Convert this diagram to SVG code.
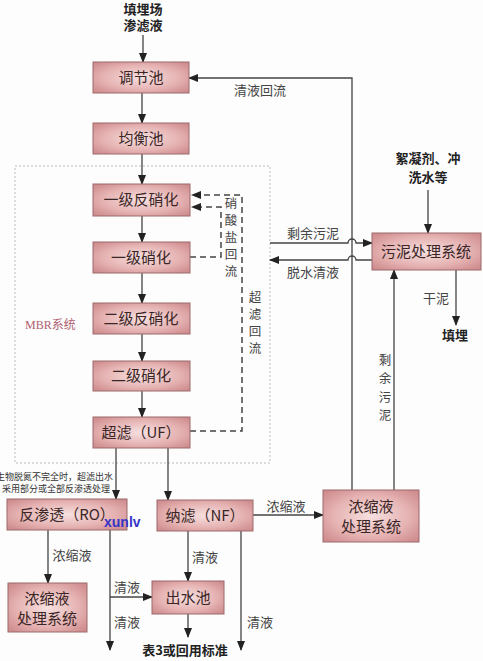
<svg xmlns="http://www.w3.org/2000/svg" width="483" height="661" viewBox="0 0 483 661">
<defs>
<radialGradient id="boxg" cx="50%" cy="50%" r="65%">
<stop offset="0" stop-color="#f6e0df"/>
<stop offset="0.6" stop-color="#e6b3b3"/>
<stop offset="1" stop-color="#cf8d8f"/>
</radialGradient>
<marker id="ah" markerWidth="10" markerHeight="8" refX="9" refY="4" orient="auto" markerUnits="userSpaceOnUse">
<path d="M0,0 L10,4 L0,8 Z" fill="#222"/>
</marker>
<style>
.box{fill:url(#boxg);stroke:#9c6a6a;stroke-width:1}
.bt{font-family:"Noto Sans CJK SC",sans-serif;font-size:15px;fill:#3a2626;text-anchor:middle}
.ln{fill:none;stroke:#444;stroke-width:1.3}
.ar{fill:none;stroke:#444;stroke-width:1.3;marker-end:url(#ah)}
.da{fill:none;stroke:#444;stroke-width:1.5;stroke-dasharray:6 4}
.lb{font-family:"Noto Sans CJK SC",sans-serif;font-size:13px;fill:#444;text-anchor:middle}
.vl{font-family:"Noto Sans CJK SC",sans-serif;font-size:12.5px;fill:#444;text-anchor:middle}
.bd{font-family:"Noto Sans CJK SC",sans-serif;font-size:13px;font-weight:bold;fill:#222;text-anchor:middle}
.an{font-family:"Noto Sans CJK SC",sans-serif;font-size:9px;fill:#333;text-anchor:end}
</style>
</defs>
<rect width="483" height="661" fill="#fdfdfd"/>
<rect x="15" y="166" width="255" height="297" fill="none" stroke="#bbb" stroke-width="1" stroke-dasharray="2 2"/>
<text x="25" y="329" font-family="Liberation Serif, 'Noto Sans CJK SC', serif" font-size="12" fill="#b06070">MBR系统</text>

<g id="connectors">
<line class="ar" x1="143" y1="35" x2="143" y2="62"/>
<line class="ar" x1="142" y1="93" x2="142" y2="123"/>
<line class="ar" x1="142" y1="154" x2="142" y2="184"/>
<line class="ar" x1="142" y1="216" x2="142" y2="242"/>
<line class="ar" x1="142" y1="273" x2="142" y2="303"/>
<line class="ar" x1="142" y1="334" x2="142" y2="361"/>
<line class="ar" x1="142" y1="391" x2="142" y2="417"/>
<line class="ar" x1="116" y1="448" x2="116" y2="499"/>
<line class="ar" x1="168" y1="448" x2="168" y2="500"/>
<line class="ar" x1="48" y1="530" x2="48" y2="583"/>
<line class="ar" x1="110" y1="530" x2="110" y2="650"/>
<line class="ar" x1="110" y1="597" x2="152" y2="597"/>
<line class="ar" x1="188" y1="531" x2="188" y2="581"/>
<line class="ar" x1="188" y1="614" x2="188" y2="637"/>
<line class="ar" x1="241" y1="531" x2="241" y2="650"/>
<line class="ar" x1="253" y1="515" x2="323" y2="515"/>
<path class="ar" d="M352,490 V78 H189"/>
<line class="ar" x1="394" y1="490" x2="394" y2="270"/>
<line class="ar" x1="428" y1="190" x2="428" y2="233"/>
<line class="ar" x1="456" y1="270" x2="456" y2="325"/>
<path class="ar" d="M270,243 H348 A4,4 0 0 1 356,243 H372"/>
<path class="ar" d="M372,260 H356 A4,4 0 0 0 348,260 H270"/>
<path class="da" d="M190,257 H221 V207 H192" marker-end="url(#ah)"/>
<path class="da" d="M190,431 H242 V195 H192" marker-end="url(#ah)"/>
</g>

<g id="n_top"><text class="bd" x="143" y="14">填埋场</text><text class="bd" x="143" y="30">渗滤液</text></g>
<g id="n_tiao"><rect class="box" x="93" y="62" width="96" height="31"/><text class="bt" x="141" y="83">调节池</text></g>
<g id="n_junheng"><rect class="box" x="93" y="123" width="96" height="31"/><text class="bt" x="141" y="144">均衡池</text></g>
<g id="n_yf"><rect class="box" x="93" y="184" width="97" height="32"/><text class="bt" x="141" y="205">一级反硝化</text></g>
<g id="n_yx"><rect class="box" x="93" y="242" width="97" height="31"/><text class="bt" x="141" y="263">一级硝化</text></g>
<g id="n_ef"><rect class="box" x="93" y="303" width="97" height="31"/><text class="bt" x="141" y="324">二级反硝化</text></g>
<g id="n_ex"><rect class="box" x="93" y="361" width="97" height="30"/><text class="bt" x="141" y="381">二级硝化</text></g>
<g id="n_uf"><rect class="box" x="93" y="417" width="97" height="31"/><text class="bt" x="141" y="438">超滤（UF）</text></g>
<g id="n_sludge"><rect class="box" x="372" y="233" width="109" height="37"/><text class="bt" x="426" y="257">污泥处理系统</text></g>
<g id="n_chem"><text class="bd" x="428" y="163">絮凝剂、冲</text><text class="bd" x="428" y="182">洗水等</text></g>
<g id="n_fill"><text class="bd" x="455" y="340">填埋</text></g>
<g id="n_ro"><rect class="box" x="7" y="499" width="120" height="31"/><text class="bt" x="67" y="520">反渗透（RO）</text></g>
<g id="n_nf"><rect class="box" x="157" y="500" width="96" height="31"/><text class="bt" x="205" y="521">纳滤（NF）</text></g>
<g id="n_concR"><rect class="box" x="323" y="490" width="96" height="52"/><text class="bt" x="371" y="512">浓缩液</text><text class="bt" x="371" y="532">处理系统</text></g>
<g id="n_concL"><rect class="box" x="8" y="583" width="79" height="49"/><text class="bt" x="47" y="604">浓缩液</text><text class="bt" x="47" y="624">处理系统</text></g>
<g id="n_out"><rect class="box" x="152" y="581" width="72" height="33"/><text class="bt" x="188" y="603">出水池</text></g>
<g id="n_std"><text class="bd" x="185" y="655" font-size="14">表3或回用标准</text><text class="bd" x="111" y="674" font-size="14">回用标准</text><text class="bd" x="244" y="674" font-size="14">表2标准</text></g>

<g id="labels">
<text class="lb" x="260" y="95">清液回流</text>
<text class="lb" x="313" y="238">剩余污泥</text>
<text class="lb" x="313" y="277">脱水清液</text>
<text class="lb" x="436" y="303">干泥</text>
<text class="vl" x="385" y="365">剩</text><text class="vl" x="385" y="383">余</text><text class="vl" x="385" y="402">污</text><text class="vl" x="385" y="420">泥</text>
<text class="vl" x="231" y="208">硝</text><text class="vl" x="231" y="225">酸</text><text class="vl" x="231" y="242">盐</text><text class="vl" x="231" y="259">回</text><text class="vl" x="231" y="276">流</text>
<text class="vl" x="255" y="302">超</text><text class="vl" x="255" y="319">滤</text><text class="vl" x="255" y="336">回</text><text class="vl" x="255" y="353">流</text>
<text class="an" x="113" y="480">生物脱氮不完全时，超滤出水</text>
<text class="an" x="110" y="492">采用部分或全部反渗透处理</text>
<text class="lb" x="72" y="560">浓缩液</text>
<text class="lb" x="127" y="592">清液</text>
<text class="lb" x="127" y="627">清液</text>
<text class="lb" x="205" y="562">清液</text>
<text class="lb" x="260" y="627">清液</text>
<text class="lb" x="286" y="511">浓缩液</text>
<text x="104" y="527" font-family="Liberation Sans, sans-serif" font-size="14" font-weight="bold" fill="#3434c8">xunlv</text>
</g>
</svg>
